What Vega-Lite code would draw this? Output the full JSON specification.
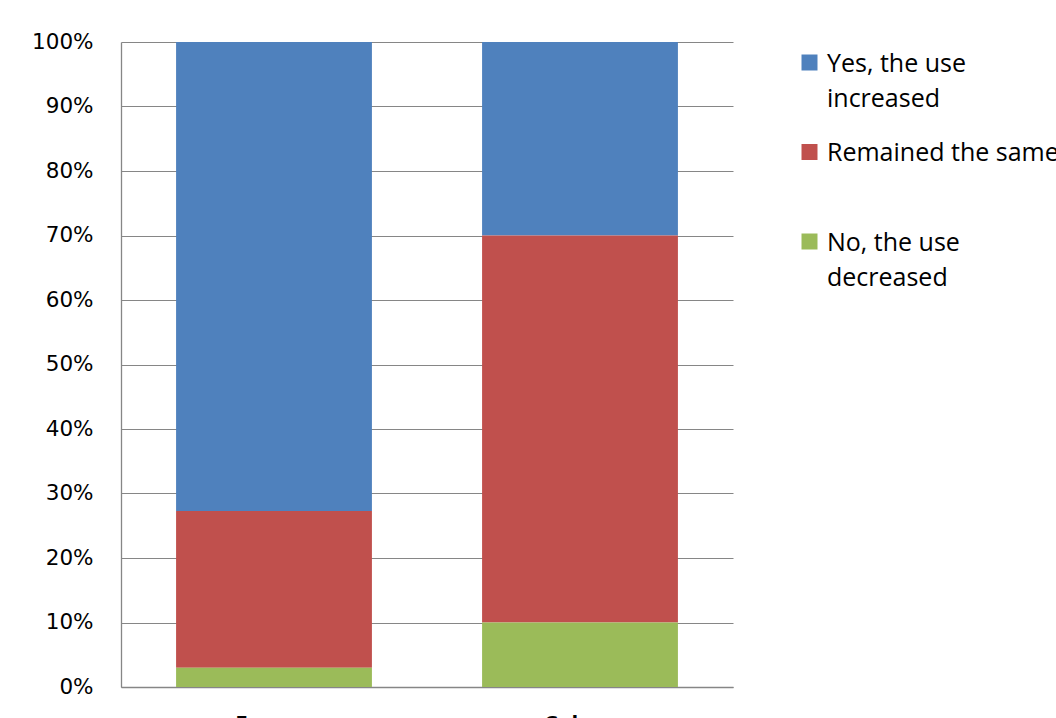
{
  "$schema": "https://vega.github.io/schema/vega-lite/v6.json",
  "width": 612,
  "height": 645,
  "autosize": "none",
  "padding": {"left": 121, "top": 42, "right": 323, "bottom": 31},
  "background": "white",
  "data": {
    "values": [
      {"category": "Europe", "series": "Yes, the use increased", "value": 0.727},
      {"category": "Europe", "series": "Remained the same", "value": 0.243},
      {"category": "Europe", "series": " No, the use decreased", "value": 0.030},
      {"category": "Colour", "series": "Yes, the use increased", "value": 0.30},
      {"category": "Colour", "series": "Remained the same", "value": 0.60},
      {"category": "Colour", "series": " No, the use decreased", "value": 0.10}
    ]
  },
  "mark": {"type": "bar"},
  "encoding": {
    "x": {
      "field": "category",
      "type": "nominal",
      "sort": ["Europe", "Colour"],
      "scale": {"paddingInner": 0.36, "paddingOuter": 0.18},
      "axis": {
        "title": null,
        "labelAngle": 0,
        "ticks": false,
        "domainColor": "#868686",
        "domainWidth": 1.3,
        "labelFont": "Open Sans",
        "labelFontWeight": "bold",
        "labelFontSize": 22,
        "labelColor": "black",
        "labelBaseline": "top",
        "labelPadding": 26
      }
    },
    "y": {
      "field": "value",
      "type": "quantitative",
      "stack": "zero",
      "scale": {"domain": [0, 1], "nice": false},
      "axis": {
        "title": null,
        "format": ".0%",
        "values": [0, 0.1, 0.2, 0.3, 0.4, 0.5, 0.6, 0.7, 0.8, 0.9, 1],
        "ticks": false,
        "grid": true,
        "gridColor": "#868686",
        "gridWidth": 1,
        "domainColor": "#868686",
        "domainWidth": 1.3,
        "labelFont": "DejaVu Sans",
        "labelFontSize": 21.5,
        "labelColor": "black",
        "labelPadding": 28
      }
    },
    "color": {
      "field": "series",
      "type": "nominal",
      "scale": {
        "domain": ["Yes, the use increased", "Remained the same", " No, the use decreased"],
        "range": ["#4F81BD", "#C0504D", "#9BBB59"]
      },
      "legend": {
        "title": null,
        "orient": "none",
        "legendX": 676,
        "legendY": 8,
        "symbolType": "square",
        "symbolSize": 256,
        "symbolStrokeWidth": 0,
        "labelFont": "Open Sans",
        "labelFontSize": 25,
        "labelColor": "black",
        "labelOffset": 5,
        "labelLimit": 400,
        "labelBaseline": "top",
        "gridAlign": "all",
        "rowPadding": 27.5,
        "labelExpr": "indexof(datum.label,'the use')>=0 ? [slice(datum.label,0,indexof(datum.label,'use')+3), slice(datum.label, indexof(datum.label,'use')+4)] : datum.label",
        "encode": {
          "labels": {"update": {"dy": {"value": -11}, "lineHeight": {"value": 35}}}
        }
      }
    },
    "order": {"field": "series", "sort": "ascending"}
  },
  "config": {"view": {"stroke": null}}
}
